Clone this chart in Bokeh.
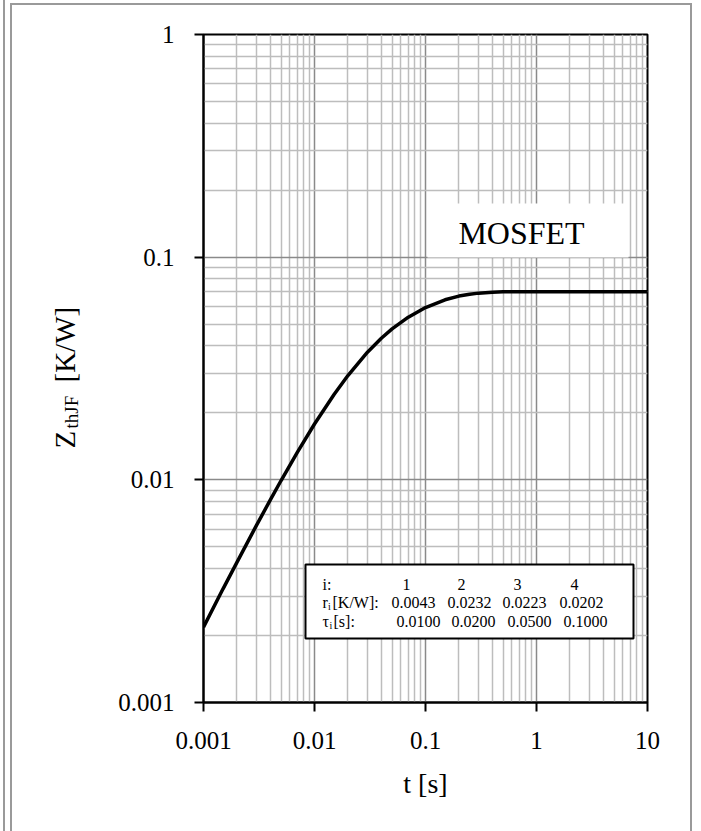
import math
from bokeh.plotting import figure
from bokeh.layouts import row
from bokeh.models import Range1d, FixedTicker, CustomJSTickFormatter, BoxAnnotation, Label
from bokeh.core.properties import value
from bokeh.embed import file_html
from bokeh.resources import INLINE

# ---- data ----
t_s = [0.001, 0.0015, 0.002, 0.003, 0.004, 0.005, 0.007, 0.01, 0.015, 0.02, 0.03,
       0.04, 0.05, 0.07, 0.1, 0.15, 0.2, 0.25, 0.3, 0.4, 0.5, 0.7, 1, 2, 5, 10]
zth = [0.00218, 0.00324, 0.00426, 0.00624, 0.00813, 0.00993, 0.01329, 0.01781,
       0.02418, 0.02940, 0.03741, 0.04322, 0.04761, 0.05377, 0.05940, 0.06437,
       0.06686, 0.06819, 0.06894, 0.06962, 0.06986, 0.06998, 0.0700, 0.0700,
       0.0700, 0.0700]

x_major = [0.001, 0.01, 0.1, 1, 10]
y_major = [0.001, 0.01, 0.1, 1]
x_minor = [m * d for d in [0.001, 0.01, 0.1, 1] for m in range(2, 10)]
y_minor = [m * d for d in [0.001, 0.01, 0.1] for m in range(2, 10)]

tab_index = ["1", "2", "3", "4"]
tab_r = ["0.0043", "0.0232", "0.0223", "0.0202"]
tab_tau = ["0.0100", "0.0200", "0.0500", "0.1000"]
series_label = "MOSFET"
x_title = "t [s]"
y_title = ["Z", "thJF", "[K/W]"]

SERIF = "Liberation Serif"
H = 831
LEFT_W = 100
F_TOP, F_BOT = 34, 702          # frame top / bottom on the page

# ---- main chart ----
p = figure(width=701 - LEFT_W, height=H, x_axis_type="log", y_axis_type="log",
           x_range=Range1d(0.001, 10), y_range=Range1d(0.001, 1),
           output_backend="svg", toolbar_location=None,
           min_border_left=203 - LEFT_W, min_border_right=54,
           min_border_top=F_TOP, min_border_bottom=H - F_BOT)
p.background_fill_color = "white"
p.border_fill_color = None
p.outline_line_color = "black"
p.outline_line_width = 2

fmt = CustomJSTickFormatter(code="return tick.toString();")
for ax, maj, mnr in [(p.xaxis[0], x_major, x_minor), (p.yaxis[0], y_major, y_minor)]:
    ax.ticker = FixedTicker(ticks=maj, minor_ticks=mnr)
    ax.formatter = fmt
    ax.axis_line_color = "black"
    ax.axis_line_width = 2
    ax.major_tick_line_color = "black"
    ax.major_tick_line_width = 2
    ax.major_tick_out = 9
    ax.major_tick_in = 0
    ax.minor_tick_out = 0
    ax.minor_tick_in = 0
    ax.major_label_text_font = SERIF
    ax.major_label_text_font_size = "25px"
    ax.major_label_text_color = "black"
p.xaxis.major_label_standoff = 20
p.yaxis.major_label_standoff = 20
p.xaxis.axis_label = x_title
p.xaxis.axis_label_text_font = SERIF
p.xaxis.axis_label_text_font_size = "28px"
p.xaxis.axis_label_text_font_style = "normal"
p.xaxis.axis_label_text_color = "black"
p.xaxis.axis_label_standoff = 16

for g in (p.xgrid[0], p.ygrid[0]):
    g.grid_line_color = "#8a8a8a"
    g.grid_line_width = 1.5
    g.minor_grid_line_color = "#bdbdbd"
    g.minor_grid_line_width = 1.5

p.line(t_s, zth, line_color="black", line_width=3.5)


def lab(x, y, text, size, align="left"):
    # x, y in page pixels (y = visual centre of the text line)
    p.add_layout(Label(x=x - LEFT_W, y=y, x_units="canvas", y_units="canvas",
                       text=text, text_font=SERIF, text_font_size=f"{size}px",
                       text_color="black", text_align=align,
                       text_baseline="middle"))


def box(l, r, t, b, **kw):
    p.add_layout(BoxAnnotation(left=l - LEFT_W, right=r - LEFT_W, top=t, bottom=b,
                               left_units="canvas", right_units="canvas",
                               top_units="canvas", bottom_units="canvas", **kw))


# ---- MOSFET label ----
box(427, 628, 203, 257, fill_color="white", fill_alpha=1, line_alpha=0)
lab(521, 232, series_label, 32, align="center")

# ---- parameter table ----
box(305, 633, 564, 638, fill_color="white", fill_alpha=1,
    line_color="black", line_alpha=1, line_width=2)
row_y = [584, 602, 621]
lab(322, row_y[0], "i:", 16)
lab(322, row_y[1], "r", 16)
lab(327.5, row_y[1] + 4, "i", 10)
lab(332, row_y[1], "[K/W]:", 16)
lab(322, row_y[2], "\u03c4", 16)
lab(329, row_y[2] + 4, "i", 10)
lab(333, row_y[2], "[s]:", 16)
for xs, vals, y in [([402, 457, 513, 570], tab_index, row_y[0]),
                    ([391, 447, 502, 559], tab_r, row_y[1]),
                    ([396, 451, 507, 563], tab_tau, row_y[2])]:
    for xx, v in zip(xs, vals):
        lab(xx, y, v, 16)

# ---- left strip holding the rotated y-axis title ----
q = figure(width=LEFT_W, height=H, x_range=Range1d(0, LEFT_W),
           y_range=Range1d(H - F_BOT, H - F_TOP),
           output_backend="svg", toolbar_location=None,
           x_axis_location=None, y_axis_location=None,
           min_border_left=0, min_border_right=0,
           min_border_top=F_TOP, min_border_bottom=H - F_BOT)
q.grid.visible = False
q.outline_line_color = None
q.background_fill_color = None
q.border_fill_color = None
# (page x of glyph centre line, page y where the part starts, font size)
title_pos = [(64, 448, 29), (71, 428, 19), (64, 382, 29)]
for (tx, ty, sz), txt in zip(title_pos, y_title):
    q.text(x=[tx], y=[H - ty], text=[txt], angle=math.pi / 2,
           text_font=value(SERIF), text_font_size=f"{sz}px",
           text_color="black", text_align="left", text_baseline="middle")

g = "linear-gradient(#9a9a9a,#9a9a9a)"
page = row(q, p, spacing=0, styles={
    "background": (f"{g} 3px 0px / 2px 100% no-repeat, "
                   f"{g} 10px 3px / 2px 100% no-repeat, "
                   f"{g} 10px 3px / 682px 2px no-repeat, "
                   f"{g} 690px 3px / 2px 100% no-repeat, white"),
})

open("out.html", "w").write(file_html(page, INLINE))
